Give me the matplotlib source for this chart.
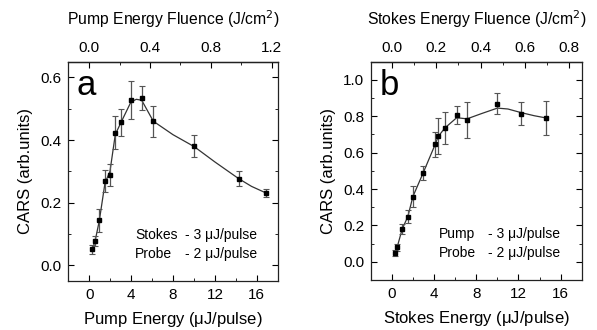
import numpy as np
import matplotlib
matplotlib.use('Agg')
from matplotlib import pyplot as plt
from matplotlib.ticker import MultipleLocator, FixedLocator, FormatStrFormatter

plt.rcParams['font.family'] = ['Liberation Sans', 'DejaVu Sans']
plt.rcParams['font.size'] = 10

# panel a: pump energy scan
pump_e = [0.29, 0.55, 0.96, 1.50, 1.98, 2.49, 3.06, 3.99, 5.01, 6.12, 10.02, 14.26, 16.88]
cars_a = [0.051, 0.078, 0.144, 0.268, 0.288, 0.423, 0.456, 0.528, 0.533, 0.460, 0.381, 0.277, 0.231]
err_a = [0.015, 0.015, 0.037, 0.035, 0.036, 0.053, 0.044, 0.060, 0.038, 0.050, 0.034, 0.024, 0.013]
# fitted curve
fit_a_x = [0.29, 0.55, 0.96, 1.50, 1.98, 2.49, 3.06, 3.99, 4.5, 5.01, 6.12, 8.0, 10.02, 12.0, 14.26, 15.5, 16.88]
fit_a_y = [0.051, 0.076, 0.142, 0.262, 0.300, 0.418, 0.458, 0.522, 0.530, 0.527, 0.460, 0.417, 0.379, 0.330, 0.277, 0.252, 0.231]

# panel b: stokes energy scan
stokes_e = [0.29, 0.48, 0.96, 1.50, 1.98, 2.94, 4.09, 4.38, 5.02, 6.13, 7.12, 10.0, 12.26, 14.6]
cars_b = [0.048, 0.079, 0.180, 0.249, 0.359, 0.487, 0.645, 0.689, 0.736, 0.806, 0.778, 0.868, 0.815, 0.791]
err_b = [0.015, 0.020, 0.027, 0.034, 0.057, 0.040, 0.068, 0.099, 0.089, 0.051, 0.099, 0.058, 0.064, 0.093]
fit_b_x = [0.29, 0.48, 0.96, 1.50, 1.98, 2.94, 4.09, 4.38, 5.02, 6.13, 7.12, 8.5, 10.0, 11.0, 12.26, 13.5, 14.6]
fit_b_y = [0.048, 0.079, 0.180, 0.249, 0.359, 0.487, 0.645, 0.689, 0.736, 0.792, 0.786, 0.815, 0.845, 0.840, 0.820, 0.803, 0.791]

# energy -> fluence conversion (J/cm^2 per uJ)
k_a = 0.0689
k_b = 0.0476

# top axis ticks
top_a_major = [0.0, 0.4, 0.8, 1.2]
top_a_minor = [0.2, 0.6, 1.0]
top_b_major = [0.0, 0.2, 0.4, 0.6, 0.8]
top_b_minor = [0.1, 0.3, 0.5, 0.7]

fig = plt.figure(figsize=(5.97, 3.30), dpi=100)
ax_a = fig.add_axes([0.1144, 0.1485, 0.3508, 0.6645])
ax_b = fig.add_axes([0.6214, 0.1515, 0.3530, 0.6615])

panels = [
    (ax_a, pump_e, cars_a, err_a, fit_a_x, fit_a_y, k_a, 'a',
     'Pump Energy ($\\mathregular{\\mu}$J/pulse)', 'Pump Energy Fluence (J/cm$^2$)',
     (-0.05, 0.65), 0.2, top_a_major, top_a_minor, ('Stokes', 'Probe')),
    (ax_b, stokes_e, cars_b, err_b, fit_b_x, fit_b_y, k_b, 'b',
     'Stokes Energy ($\\mathregular{\\mu}$J/pulse)', 'Stokes Energy Fluence (J/cm$^2$)',
     (-0.1, 1.1), 0.2, top_b_major, top_b_minor, ('Pump', 'Probe')),
]

for ax, x, y, e, fx, fy, k, letter, xlab, toplab, ylim, ymaj, tmaj, tmin, names in panels:
    ax.plot(fx, fy, color='#333333', lw=0.9, zorder=2)
    ax.errorbar(x, y, yerr=e, fmt='s', ms=3.2, color='black', ecolor='#555555',
                elinewidth=0.9, capsize=2, capthick=0.8, zorder=3)
    ax.set_xlim(-2, 18)
    ax.set_ylim(*ylim)
    ax.xaxis.set_major_locator(MultipleLocator(4))
    ax.xaxis.set_minor_locator(MultipleLocator(2))
    ax.yaxis.set_major_locator(MultipleLocator(ymaj))
    ax.yaxis.set_minor_locator(MultipleLocator(0.1))
    ax.tick_params(which='both', direction='in', right=True, labelsize=11)
    ax.tick_params(which='major', length=4, pad=5)
    ax.tick_params(which='minor', length=2.5)
    ax.set_xlabel(xlab, fontsize=12, labelpad=6)
    ax.set_ylabel('CARS (arb.units)', fontsize=12, labelpad=5)
    for s in ax.spines.values():
        s.set_linewidth(0.9)
        s.set_color('#222222')

    top = ax.secondary_xaxis('top', functions=(lambda v, k=k: v * k, lambda v, k=k: v / k))
    top.xaxis.set_major_locator(FixedLocator(tmaj))
    top.xaxis.set_minor_locator(FixedLocator(tmin))
    top.tick_params(which='both', direction='in', labelsize=11)
    top.tick_params(which='major', length=4, pad=5)
    top.tick_params(which='minor', length=2.5)
    top.xaxis.set_major_formatter(FormatStrFormatter('%.1f'))
    top.set_xlabel(toplab, fontsize=11.3, labelpad=11)
    top.spines['top'].set_linewidth(0.9)

    ax.text(0.04, 0.965, letter, transform=ax.transAxes, fontsize=25, va='top', ha='left')
    ax.text(0.32, 0.21, names[0], transform=ax.transAxes, fontsize=10, va='center')
    ax.text(0.555, 0.21, '- 3 \u03bcJ/pulse', transform=ax.transAxes, fontsize=10, va='center')
    ax.text(0.32, 0.125, names[1], transform=ax.transAxes, fontsize=10, va='center')
    ax.text(0.555, 0.125, '- 2 \u03bcJ/pulse', transform=ax.transAxes, fontsize=10, va='center')

fig.savefig('out.png', dpi=100)
